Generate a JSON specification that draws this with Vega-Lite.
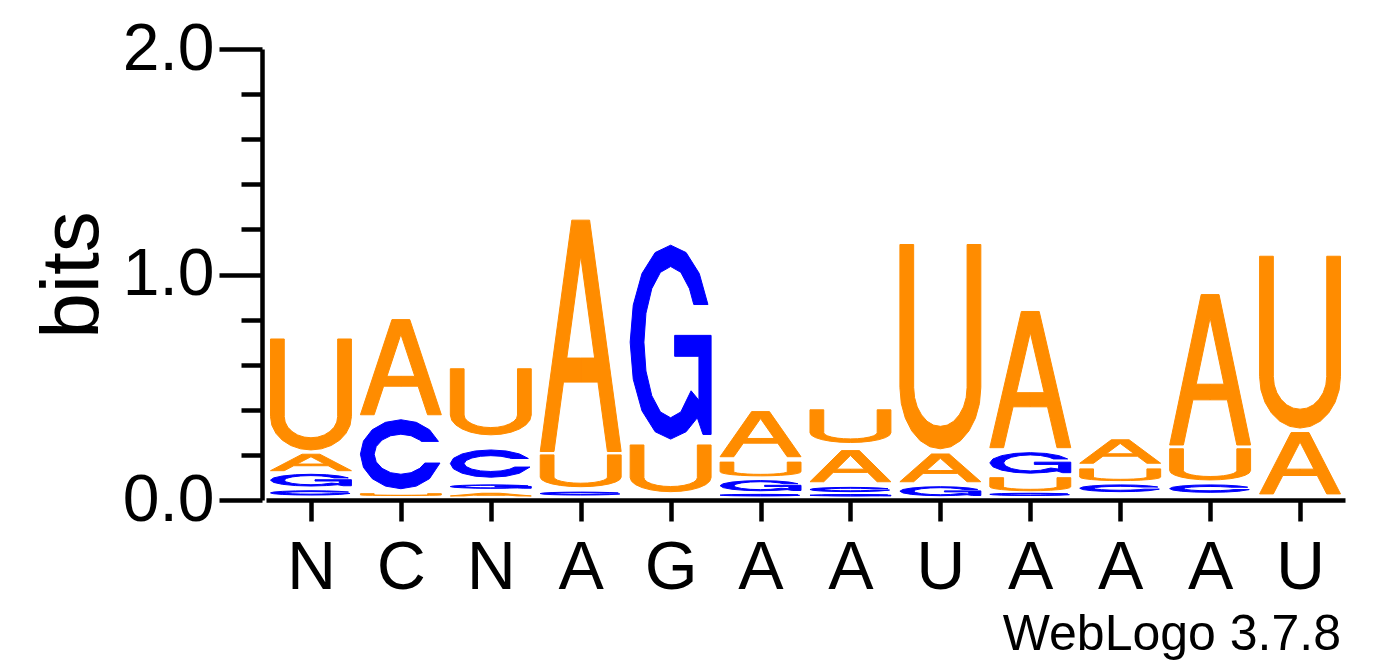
{
  "$schema": "https://vega.github.io/schema/vega-lite/v6.json",
  "width": 1079,
  "height": 451,
  "autosize": {"type": "none"},
  "padding": {"left": 266, "top": 49, "right": 47, "bottom": 167},
  "title": {
    "text": "WebLogo 3.7.8",
    "orient": "bottom",
    "anchor": "end",
    "font": "Liberation Sans",
    "fontSize": 50,
    "fontWeight": "normal",
    "color": "black",
    "offset": 8,
    "dx": -4
  },
  "datasets": {
    "glyphs": [
      {"letter": "A",
       "gx": [0, 0.17, 0.287, 0.5, 0.5, 0.328, 0.5, 0.672, 0.5, 0.5, 0.713, 0.83, 1, 0.61, 0.39, 0],
       "gy": [0, 0, 0.3, 0.3, 0.404, 0.404, 0.846, 0.404, 0.404, 0.3, 0.3, 0, 0, 1, 1, 0]},
      {"letter": "U",
       "gx": [0, 0, 0.017, 0.067, 0.146, 0.25, 0.371, 0.5, 0.629, 0.75, 0.854, 0.933, 0.983, 1, 1, 0.83, 0.83, 0.819, 0.786, 0.733, 0.665, 0.585, 0.5, 0.415, 0.335, 0.267, 0.214, 0.181, 0.17, 0.17, 0],
       "gy": [1, 0.3, 0.222, 0.15, 0.088, 0.04, 0.01, 0, 0.01, 0.04, 0.088, 0.15, 0.222, 0.3, 1, 1, 0.3, 0.251, 0.205, 0.166, 0.135, 0.116, 0.11, 0.116, 0.135, 0.166, 0.205, 0.251, 0.3, 1, 1]},
      {"letter": "C",
       "gx": [0.964, 0.854, 0.691, 0.5, 0.309, 0.146, 0.038, 0, 0.038, 0.146, 0.309, 0.5, 0.691, 0.854, 0.983, 0.796, 0.733, 0.626, 0.5, 0.374, 0.267, 0.195, 0.17, 0.195, 0.267, 0.374, 0.5, 0.626, 0.733, 0.753, 0.964],
       "gy": [0.686, 0.854, 0.962, 1, 0.962, 0.854, 0.691, 0.5, 0.309, 0.146, 0.038, 0, 0.038, 0.146, 0.372, 0.372, 0.295, 0.232, 0.21, 0.232, 0.295, 0.389, 0.5, 0.611, 0.705, 0.768, 0.79, 0.768, 0.705, 0.686, 0.686]},
      {"letter": "G",
       "gx": [0.961, 0.854, 0.691, 0.5, 0.309, 0.146, 0.038, 0, 0.038, 0.146, 0.309, 0.5, 0.691, 0.83, 0.9, 1, 1, 0.55, 0.55, 0.85, 0.85, 0.753, 0.626, 0.5, 0.374, 0.267, 0.195, 0.17, 0.195, 0.267, 0.374, 0.5, 0.626, 0.733, 0.786, 0.961],
       "gy": [0.694, 0.854, 0.962, 1, 0.962, 0.854, 0.691, 0.5, 0.309, 0.146, 0.038, 0, 0.038, 0.11, 0.024, 0.024, 0.535, 0.535, 0.427, 0.427, 0.2, 0.249, 0.14, 0.11, 0.14, 0.224, 0.351, 0.5, 0.649, 0.776, 0.86, 0.89, 0.86, 0.776, 0.694, 0.694]}
    ],
    "logo": [
      {"pos": 1, "letter": "C", "lo": 0.022, "hi": 0.041},
      {"pos": 1, "letter": "G", "lo": 0.062, "hi": 0.114},
      {"pos": 1, "letter": "A", "lo": 0.13, "hi": 0.203},
      {"pos": 1, "letter": "U", "lo": 0.222, "hi": 0.714},
      {"pos": 2, "letter": "U", "lo": 0.02, "hi": 0.028},
      {"pos": 2, "letter": "C", "lo": 0.05, "hi": 0.356},
      {"pos": 2, "letter": "A", "lo": 0.378, "hi": 0.8},
      {"pos": 3, "letter": "A", "lo": 0.018, "hi": 0.03},
      {"pos": 3, "letter": "G", "lo": 0.052, "hi": 0.067},
      {"pos": 3, "letter": "C", "lo": 0.101, "hi": 0.222},
      {"pos": 3, "letter": "U", "lo": 0.289, "hi": 0.582},
      {"pos": 4, "letter": "C", "lo": 0.022, "hi": 0.035},
      {"pos": 4, "letter": "U", "lo": 0.059, "hi": 0.2},
      {"pos": 4, "letter": "A", "lo": 0.215, "hi": 1.241},
      {"pos": 5, "letter": "U", "lo": 0.037, "hi": 0.244},
      {"pos": 5, "letter": "G", "lo": 0.27, "hi": 1.13},
      {"pos": 6, "letter": "C", "lo": 0.018, "hi": 0.025},
      {"pos": 6, "letter": "G", "lo": 0.041, "hi": 0.086},
      {"pos": 6, "letter": "U", "lo": 0.107, "hi": 0.168},
      {"pos": 6, "letter": "A", "lo": 0.192, "hi": 0.392},
      {"pos": 7, "letter": "G", "lo": 0.018, "hi": 0.024},
      {"pos": 7, "letter": "C", "lo": 0.037, "hi": 0.056},
      {"pos": 7, "letter": "A", "lo": 0.081, "hi": 0.219},
      {"pos": 7, "letter": "U", "lo": 0.255, "hi": 0.4},
      {"pos": 8, "letter": "G", "lo": 0.019, "hi": 0.059},
      {"pos": 8, "letter": "A", "lo": 0.081, "hi": 0.204},
      {"pos": 8, "letter": "U", "lo": 0.227, "hi": 1.133},
      {"pos": 9, "letter": "C", "lo": 0.02, "hi": 0.03},
      {"pos": 9, "letter": "U", "lo": 0.041, "hi": 0.099},
      {"pos": 9, "letter": "G", "lo": 0.119, "hi": 0.21},
      {"pos": 9, "letter": "A", "lo": 0.232, "hi": 0.836},
      {"pos": 10, "letter": "C", "lo": 0.037, "hi": 0.067},
      {"pos": 10, "letter": "U", "lo": 0.086, "hi": 0.138},
      {"pos": 10, "letter": "A", "lo": 0.163, "hi": 0.267},
      {"pos": 11, "letter": "C", "lo": 0.034, "hi": 0.067},
      {"pos": 11, "letter": "U", "lo": 0.089, "hi": 0.227},
      {"pos": 11, "letter": "A", "lo": 0.244, "hi": 0.911},
      {"pos": 12, "letter": "A", "lo": 0.027, "hi": 0.299},
      {"pos": 12, "letter": "U", "lo": 0.319, "hi": 1.081}
    ]
  },
  "data": {"name": "logo"},
  "transform": [
    {"lookup": "letter", "from": {"data": {"name": "glyphs"}, "key": "letter", "fields": ["gx", "gy"]}},
    {"flatten": ["gx", "gy"]},
    {"window": [{"op": "row_number", "as": "k"}], "groupby": ["pos", "letter"]},
    {"calculate": "datum.pos - 0.45 + 0.9 * datum.gx", "as": "px"},
    {"calculate": "datum.lo + datum.gy * (datum.hi - datum.lo)", "as": "py"}
  ],
  "mark": {"type": "line", "strokeWidth": 1, "interpolate": "linear"},
  "encoding": {
    "x": {
      "field": "px",
      "type": "quantitative",
      "scale": {"domain": [0.5, 12.5], "nice": false, "zero": false},
      "axis": {
        "title": null,
        "values": [1, 2, 3, 4, 5, 6, 7, 8, 9, 10, 11, 12],
        "labelExpr": "substring('NCNAGAAUAAAU', datum.value - 1, datum.value)",
        "tickSize": 21,
        "tickWidth": 4.5,
        "domainWidth": 4.5,
        "labelFontSize": 68,
        "labelPadding": 13,
        "labelFlush": false,
        "labelOverlap": false,
        "grid": false
      }
    },
    "y": {
      "field": "py",
      "type": "quantitative",
      "scale": {"domain": [0, 2], "nice": false},
      "axis": {
        "title": "bits",
        "values": [0, 0.2, 0.4, 0.6, 0.8, 1, 1.2, 1.4, 1.6, 1.8, 2],
        "labelExpr": "datum.value === 0 || datum.value === 1 || datum.value === 2 ? format(datum.value, '.1f') : ''",
        "tickSize": {"condition": {"test": "datum.value === 0 || datum.value === 1 || datum.value === 2", "value": 43}, "value": 21},
        "tickWidth": 4.5,
        "domainWidth": 4.5,
        "offset": 4,
        "labelFontSize": 66,
        "labelPadding": 5,
        "labelFlush": false,
        "labelOverlap": false,
        "titleFontSize": 82,
        "titlePadding": 8,
        "grid": false
      }
    },
    "detail": [{"field": "pos", "type": "nominal"}, {"field": "letter", "type": "nominal"}],
    "order": {"field": "k", "type": "quantitative"},
    "fill": {
      "field": "letter",
      "type": "nominal",
      "scale": {"domain": ["A", "C", "G", "U"], "range": ["#FF8C00", "#0000FF", "#0000FF", "#FF8C00"]},
      "legend": null
    },
    "stroke": {
      "field": "letter",
      "type": "nominal",
      "scale": {"domain": ["A", "C", "G", "U"], "range": ["#FF8C00", "#0000FF", "#0000FF", "#FF8C00"]},
      "legend": null
    }
  },
  "config": {
    "view": {"stroke": null},
    "axis": {
      "labelFont": "Liberation Sans",
      "titleFont": "Liberation Sans",
      "titleFontWeight": "normal",
      "labelColor": "black",
      "titleColor": "black",
      "domainColor": "black",
      "tickColor": "black"
    }
  }
}
